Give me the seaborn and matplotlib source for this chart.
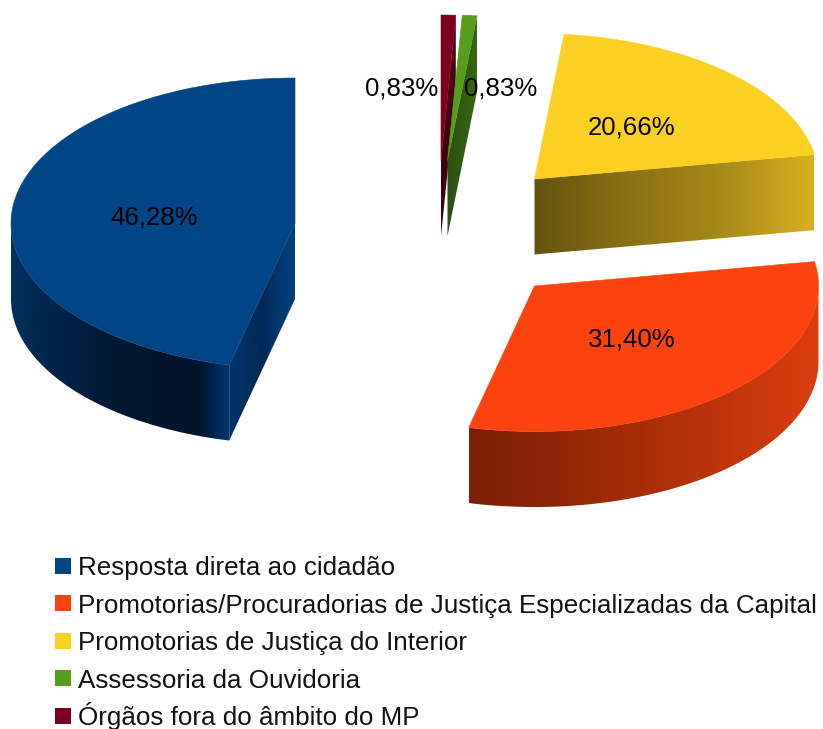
import numpy as np
import matplotlib.pyplot as plt
from matplotlib.patches import Polygon
import seaborn as sns

# slices in drawing order, counter clockwise from 12 o'clock
labels = ['Resposta direta ao cidadão',
          'Promotorias/Procuradorias de Justiça Especializadas da Capital',
          'Promotorias de Justiça do Interior',
          'Assessoria da Ouvidoria',
          'Órgãos fora do âmbito do MP']
shares = [46.28, 31.40, 20.66, 0.83, 0.83]

colors = ['#004586', '#fc420e', '#fbd022', '#579d1c', '#7e0021']
side_colors = [['#00366c', '#00305f', '#002a55', '#00386c', '#004079'],
               ['#c93710', '#c93710'],
               ['#665210', '#8a7015', '#a58a18', '#d9b020'],
               ['#2a5010', '#386514'],
               ['#3d0011', '#50001a']]
rim_colors = [['#00305c', '#00274d', '#002042', '#001a36', '#00172e', '#00152b', '#00152b', '#00396f'],
              ['#7a1f05', '#8f2607', '#a82e09', '#c2350c', '#dc3d10'],
              ['#665210', '#665210'], ['#2a5010', '#2a5010'], ['#3d0011', '#3d0011']]

# pie layout in pixels
centers = [(295, 223.5), (534.5, 286), (534.5, 179), (447.5, 160.5), (441, 160.5)]
label_pos = [(154, 217.5), (632, 339), (632, 127.5), (501, 88), (402, 88)]
RX, RY, DEPTH = 284, 145.5, 75.5

sns.set_theme(style='white')
plt.rcParams['font.family'] = ['Liberation Sans', 'DejaVu Sans']

fig = plt.figure(figsize=(8.23, 7.29), dpi=100)
ax = fig.add_axes([0, 0, 1, 1])


def rim_point(c, deg):
    t = np.radians(deg)
    return c[0] - RX * np.sin(t), c[1] - RY * np.cos(t)


def wall(xs, ys, stops, z):
    # vertical band below the line xs, ys, shaded from left to right
    px = np.r_[xs, xs[::-1]]
    py = np.r_[ys, (ys + DEPTH)[::-1]]
    shape = Polygon(np.c_[px, py], closed=True, transform=ax.transData, fc='none', ec='none')
    ax.add_patch(shape)
    grad = np.array(sns.blend_palette(stops, 256))[None, :, :]
    img = ax.imshow(grad, extent=(px.min(), px.max(), py.max(), py.min()), aspect='auto',
                    interpolation='bilinear', zorder=z)
    img.set_clip_path(shape)


edges = np.concatenate([[0], np.cumsum(shares) / sum(shares) * 360])

# small slices first so the green one sits on the red one
for i in reversed(range(len(centers))):
    c = centers[i]
    t0, t1 = edges[i], edges[i + 1]
    z = 2 + (len(centers) - i) * 0.1

    # outer wall, only the front half of the ellipse shows
    lo, hi = max(t0, 90), min(t1, 270)
    if hi > lo:
        xs, ys = rim_point(c, np.linspace(lo, hi, 200))
        wall(xs, ys, rim_colors[i], z)

    # flat cut walls, when they face the viewer
    for edge, normal in ((t0, t0 - 90), (t1, t1 + 90)):
        if np.cos(np.radians(normal)) < -1e-6:
            ex, ey = rim_point(c, edge)
            wall(np.array([c[0], ex]), np.array([c[1], ey]), side_colors[i], z)

    # top face
    xs, ys = rim_point(c, np.linspace(t0, t1, 200))
    ax.fill(np.r_[c[0], xs], np.r_[c[1], ys], color=colors[i], lw=0.4, zorder=z + 0.05)

for pos, val in zip(label_pos, shares):
    ax.text(pos[0], pos[1], f'{val:.2f}%'.replace('.', ','), fontsize=18.6, color='black',
            ha='center', va='center', zorder=5)

# legend rows, spaced evenly like the original
for k, (col, lab) in enumerate(zip(colors, labels)):
    base = 575 + 37.5 * k
    ax.scatter([63], [base - 9.5], marker='s', s=132, color=col, linewidths=0, zorder=5)
    ax.text(78, base, lab, fontsize=18.75, color='#111111', ha='left', va='baseline', zorder=5)

ax.set_xlim(0, 823)
ax.set_ylim(729, 0)
ax.axis('off')

plt.savefig('out.png', dpi=100)
plt.close()
